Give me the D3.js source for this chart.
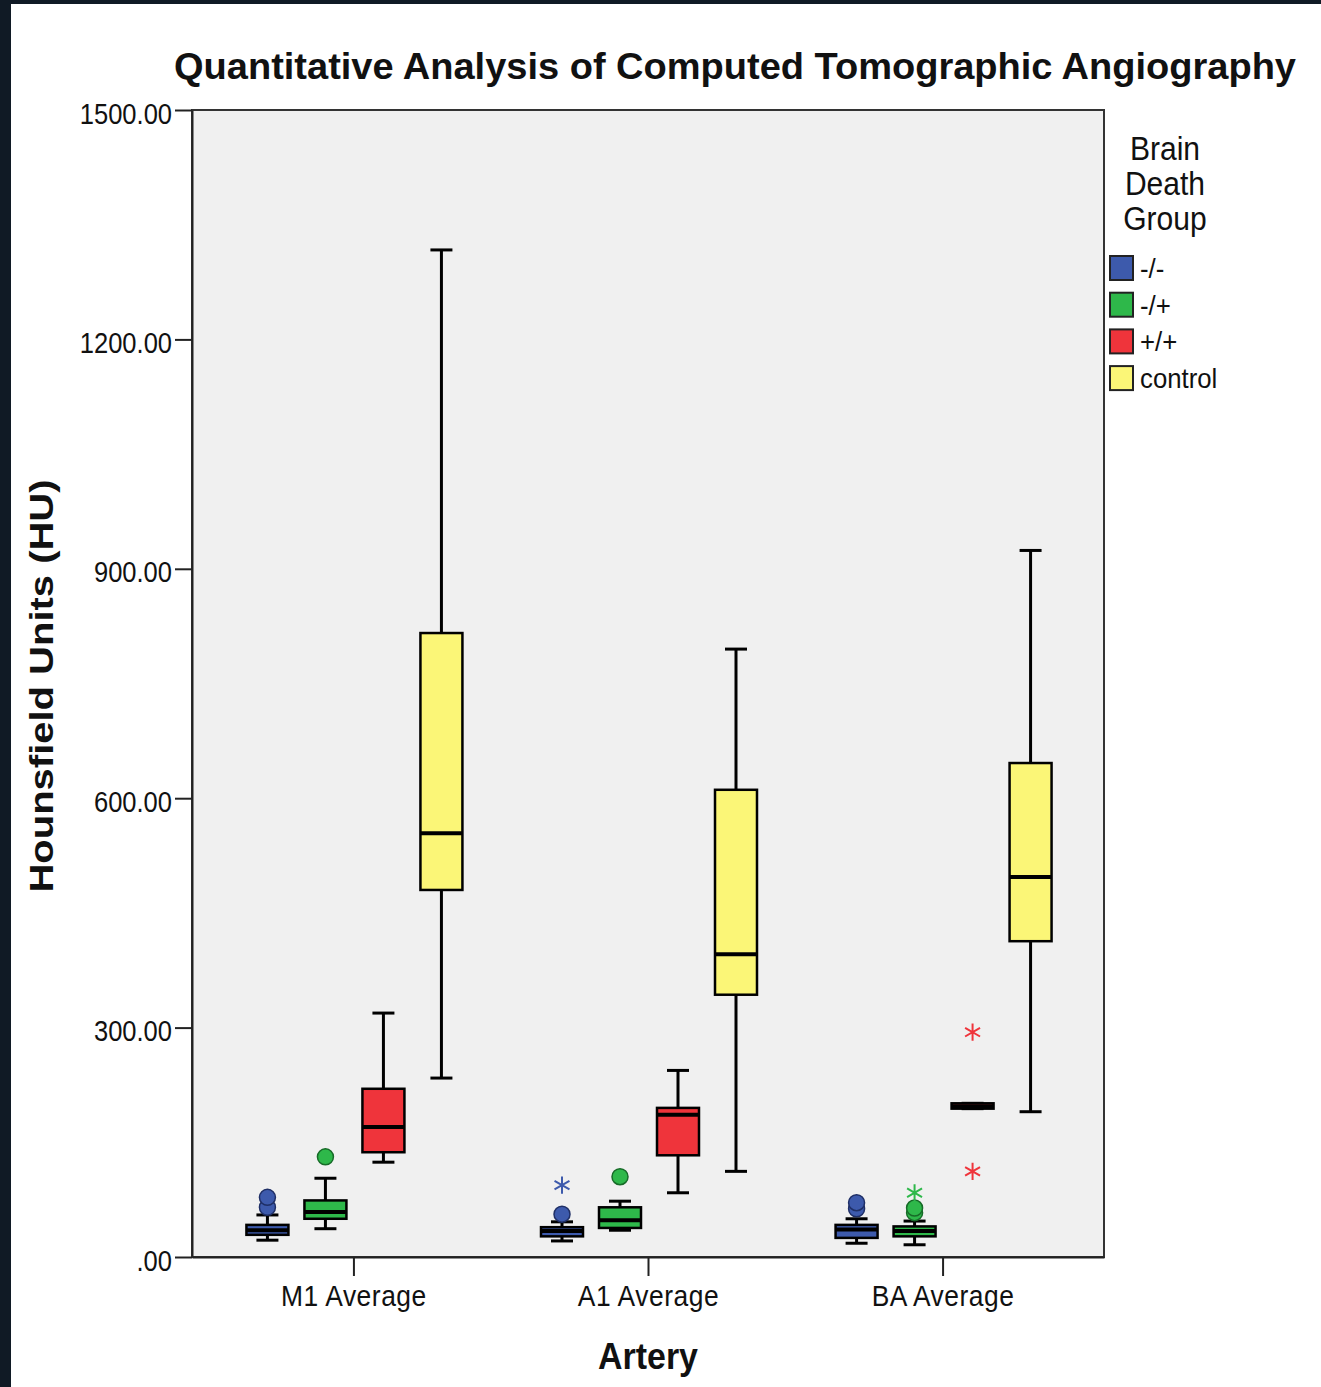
<!DOCTYPE html>
<html>
<head>
<meta charset="utf-8">
<script src="https://cdn.jsdelivr.net/npm/d3@7"></script>
<style>
  html, body { margin: 0; padding: 0; background: #ffffff; }
  svg { display: block; }
</style>
</head>
<body>
<svg id="chart" width="1321" height="1387"></svg>
<script>
// Arteries on the x axis and the four brain-death groups drawn inside each.
const arteries = ["M1 Average", "A1 Average", "BA Average"];
const groups = ["-/-", "-/+", "+/+", "control"];
const groupColors = ["#3d5aac", "#2eb84a", "#ef343b", "#fbf677"];
const groupOutlines = ["#1f2f66", "#176b28", "#8c1a1e", "#7a7730"];

// Box-plot statistics, one row per artery, one value per group (HU).
const whiskerLow  = [[22, 37, 124, 234],   [21, 35, 84, 112],   [18, 16, 194, 190]];
const quartile1   = [[29, 50, 137, 480],   [27, 38, 133, 343],  [25, 27, 194, 413]];
const medians     = [[35, 59, 170, 554],   [34, 48, 186, 396],  [36, 34, 197, 497]];
const quartile3   = [[42, 74, 220, 816],   [39, 65, 195, 611],  [42, 40, 201, 646]];
const whiskerHigh = [[55, 103, 319, 1317], [46, 73, 244, 795],  [50, 47, 201, 924]];

// Outliers (circles) and extreme values (asterisks).
const outliers = [
  [[65, 78], [131], [], []],
  [[56], [105], [], []],
  [[63, 71], [58, 64], [], []]
];
const extremes = [
  [[], [], [], []],
  [[94], [], [], []],
  [[], [84], [112, 294], []]
];

const yTicks = [0, 300, 600, 900, 1200, 1500];
const yTickLabels = [".00", "300.00", "600.00", "900.00", "1200.00", "1500.00"];

const FONT = "'Liberation Sans', Arial, sans-serif";

// squeeze a text element horizontally to a fraction of its natural width
function condense(sel, factor) {
  sel.each(function () {
    const w = this.getComputedTextLength();
    d3.select(this).attr("textLength", w * factor).attr("lengthAdjust", "spacingAndGlyphs");
  });
}

const svg = d3.select("#chart");

// dark frame strip on the left and top edge
svg.append("rect").attr("x", 0).attr("y", 0).attr("width", 1321).attr("height", 4).attr("fill", "#101a25");
svg.append("rect").attr("x", 0).attr("y", 0).attr("width", 11).attr("height", 1387).attr("fill", "#101a25");

const plot = { left: 192, right: 1104, top: 110, bottom: 1257 };

const y = d3.scaleLinear().domain([0, 1500]).range([plot.bottom, plot.top]);
const x0 = d3.scalePoint().domain(arteries).range([plot.left, plot.right]).padding(0.548);
const x1 = d3.scaleBand().domain(groups).range([-115, 117]).paddingInner(0.276).paddingOuter(0.138);

// plot panel
svg.append("rect")
  .attr("x", plot.left).attr("y", plot.top)
  .attr("width", plot.right - plot.left).attr("height", plot.bottom - plot.top)
  .attr("fill", "#f0f0f0").attr("stroke", "#333333").attr("stroke-width", 2);

// y axis
const yAxis = svg.append("g")
  .attr("transform", `translate(${plot.left},0)`)
  .call(d3.axisLeft(y).tickValues(yTicks).tickSizeInner(17).tickSizeOuter(0).tickPadding(3)
    .tickFormat((d, i) => yTickLabels[i]));
yAxis.select(".domain").attr("stroke", "#222").attr("stroke-width", 2);
yAxis.selectAll(".tick line").attr("stroke", "#222").attr("stroke-width", 2);
yAxis.selectAll(".tick text")
  .attr("fill", "#111")
  .attr("dy", "0.45em")
  .style("font-family", FONT)
  .style("font-size", "29px")
  .call(condense, 0.88);

// x axis
const xAxis = svg.append("g")
  .attr("transform", `translate(0,${plot.bottom})`)
  .call(d3.axisBottom(x0).tickSizeInner(19).tickSizeOuter(0).tickPadding(9));
xAxis.select(".domain").attr("stroke", "#222").attr("stroke-width", 2);
xAxis.selectAll(".tick line").attr("stroke", "#222").attr("stroke-width", 2);
xAxis.selectAll(".tick text")
  .attr("fill", "#111")
  .style("font-family", FONT)
  .style("font-size", "30px")
  .style("letter-spacing", "0.6px")
  .call(condense, 0.88);

// box plots
const capHalf = 11;
arteries.forEach((artery, ai) => {
  groups.forEach((grp, gi) => {
    const cx = x0(artery) + x1(grp) + x1.bandwidth() / 2;
    const bw = x1.bandwidth();
    const g = svg.append("g");

    // whiskers
    g.append("line")
      .attr("x1", cx).attr("x2", cx)
      .attr("y1", y(whiskerHigh[ai][gi])).attr("y2", y(quartile3[ai][gi]))
      .attr("stroke", "#000").attr("stroke-width", 3);
    g.append("line")
      .attr("x1", cx).attr("x2", cx)
      .attr("y1", y(quartile1[ai][gi])).attr("y2", y(whiskerLow[ai][gi]))
      .attr("stroke", "#000").attr("stroke-width", 3);
    [whiskerHigh[ai][gi], whiskerLow[ai][gi]].forEach(v => {
      g.append("line")
        .attr("x1", cx - capHalf).attr("x2", cx + capHalf)
        .attr("y1", y(v)).attr("y2", y(v))
        .attr("stroke", "#000").attr("stroke-width", 3);
    });

    // box
    g.append("rect")
      .attr("x", cx - bw / 2).attr("width", bw)
      .attr("y", y(quartile3[ai][gi]))
      .attr("height", Math.max(1, y(quartile1[ai][gi]) - y(quartile3[ai][gi])))
      .attr("fill", groupColors[gi]).attr("stroke", "#000").attr("stroke-width", 2.5);

    // median
    g.append("line")
      .attr("x1", cx - bw / 2).attr("x2", cx + bw / 2)
      .attr("y1", y(medians[ai][gi])).attr("y2", y(medians[ai][gi]))
      .attr("stroke", "#000").attr("stroke-width", 4);

    // outliers
    outliers[ai][gi].forEach(v => {
      g.append("circle")
        .attr("cx", cx).attr("cy", y(v)).attr("r", 8)
        .attr("fill", groupColors[gi]).attr("stroke", groupOutlines[gi]).attr("stroke-width", 1.5);
    });

    // extreme values
    extremes[ai][gi].forEach(v => {
      g.append("path")
        .attr("transform", `translate(${cx},${y(v)})`)
        .attr("d", d3.symbol().type(d3.symbolAsterisk).size(210)())
        .attr("fill", "none").attr("stroke", groupColors[gi]).attr("stroke-width", 2);
    });
  });
});

// titles
svg.append("text")
  .attr("x", 735).attr("y", 79)
  .attr("text-anchor", "middle")
  .attr("textLength", 1122).attr("lengthAdjust", "spacingAndGlyphs")
  .style("font-family", FONT)
  .style("font-weight", "bold").style("font-size", "37px").attr("fill", "#111")
  .text("Quantitative Analysis of Computed Tomographic Angiography");

svg.append("text")
  .attr("transform", "translate(53,686) rotate(-90)")
  .attr("text-anchor", "middle")
  .attr("textLength", 413).attr("lengthAdjust", "spacingAndGlyphs")
  .style("font-family", FONT)
  .style("font-weight", "bold").style("font-size", "33px").attr("fill", "#111")
  .text("Hounsfield Units (HU)");

svg.append("text")
  .attr("x", 648).attr("y", 1369)
  .attr("text-anchor", "middle")
  .attr("textLength", 100).attr("lengthAdjust", "spacingAndGlyphs")
  .style("font-family", FONT)
  .style("font-weight", "bold").style("font-size", "36px").attr("fill", "#111")
  .text("Artery");

// legend
const legend = svg.append("g");
["Brain", "Death", "Group"].forEach((t, i) => {
  legend.append("text")
    .attr("x", 1165).attr("y", 160 + i * 35)
    .attr("text-anchor", "middle")
    .style("font-family", FONT)
    .style("font-size", "33px").attr("fill", "#111")
    .text(t)
    .call(condense, 0.91);
});
groups.forEach((grp, gi) => {
  const yy = 256 + gi * 36.7;
  legend.append("rect")
    .attr("x", 1110).attr("y", yy).attr("width", 23).attr("height", 24)
    .attr("fill", groupColors[gi]).attr("stroke", "#222").attr("stroke-width", 2);
  legend.append("text")
    .attr("x", 1140).attr("y", yy + 22)
    .style("font-family", FONT)
    .style("font-size", "28px").attr("fill", "#111")
    .text(grp)
    .call(condense, 0.92);
});
</script>
</body>
</html>
